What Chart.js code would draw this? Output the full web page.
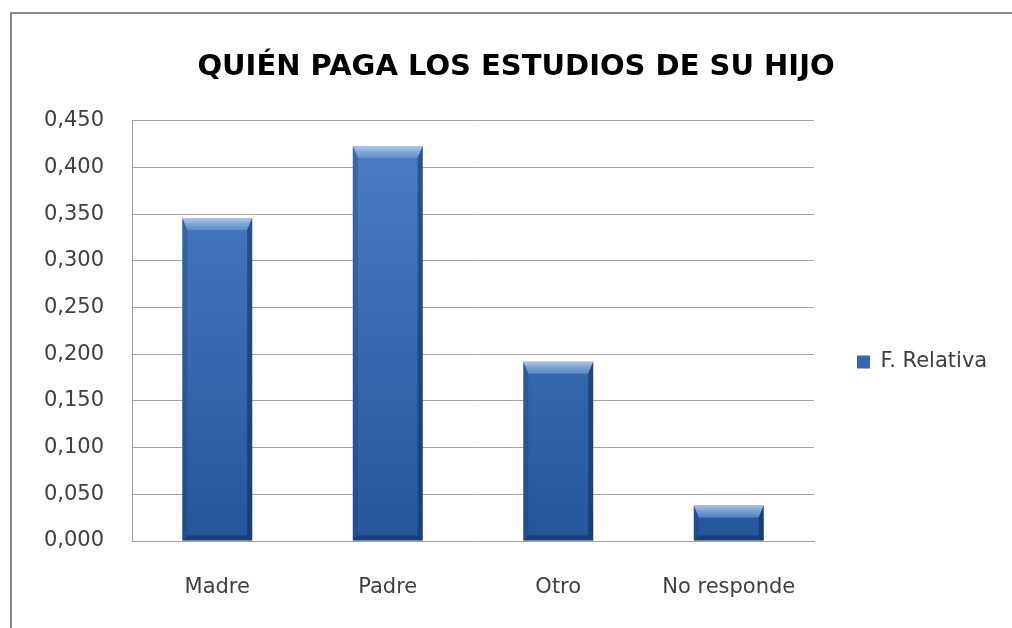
<!DOCTYPE html>
<html>
<head>
<meta charset="utf-8">
<script src="https://cdn.jsdelivr.net/npm/chart.js@4.4.1/dist/chart.umd.min.js"></script>
<style>
  html, body { margin: 0; padding: 0; background: #fff; overflow: hidden; }
  #wrap { position: relative; width: 1012px; height: 628px; }
  #frame { position: absolute; left: 10px; top: 12px; width: 1100px; height: 700px;
           border: 2px solid #8a8a8a; pointer-events: none; }
</style>
</head>
<body>
<div id="wrap">
  <canvas id="quienPaga" width="1012" height="628"></canvas>
  <div id="frame"></div>
</div>
<script>
const categories = ['Madre', 'Padre', 'Otro', 'No responde'];
const relativa = [0.346, 0.423, 0.192, 0.038];
const seriesLabel = 'F. Relativa';
const chartTitle = 'QUIÉN PAGA LOS ESTUDIOS DE SU HIJO';

const legendWidth = 198;

// vertical gradient for the bars, like the excel bevel style
function barFill(ctx) {
  const chart = ctx.chart;
  const area = chart.chartArea;
  if (!area) return '#3b6fb6';
  const g = chart.ctx.createLinearGradient(0, area.top, 0, area.bottom);
  g.addColorStop(0, '#4a7fc6');
  g.addColorStop(1, '#25569b');
  return g;
}

// draw the bevel edges over each bar
const bevelPlugin = {
  id: 'bevel',
  afterDatasetsDraw(chart) {
    const c = chart.ctx;
    const meta = chart.getDatasetMeta(0);
    meta.data.forEach(bar => {
      const half = bar.width / 2;
      const l = bar.x - half, r = bar.x + half;
      const t = bar.y, b = bar.base;
      const s = 5, tt = 12, bb = 5;
      c.save();
      // top
      let g = c.createLinearGradient(0, t, 0, t + tt);
      g.addColorStop(0, 'rgba(190,215,245,0.85)');
      g.addColorStop(1, 'rgba(120,160,215,0.55)');
      c.fillStyle = g;
      c.beginPath();
      c.moveTo(l, t); c.lineTo(r, t); c.lineTo(r - s, t + tt); c.lineTo(l + s, t + tt);
      c.closePath(); c.fill();
      // left
      c.fillStyle = 'rgba(20,50,100,0.25)';
      c.beginPath();
      c.moveTo(l, t); c.lineTo(l + s, t + tt); c.lineTo(l + s, b - bb); c.lineTo(l, b);
      c.closePath(); c.fill();
      // right
      c.fillStyle = 'rgba(10,30,70,0.45)';
      c.beginPath();
      c.moveTo(r, t); c.lineTo(r - s, t + tt); c.lineTo(r - s, b - bb); c.lineTo(r, b);
      c.closePath(); c.fill();
      // bottom
      c.fillStyle = 'rgba(10,30,70,0.45)';
      c.beginPath();
      c.moveTo(l, b); c.lineTo(r, b); c.lineTo(r - s, b - bb); c.lineTo(l + s, b - bb);
      c.closePath(); c.fill();
      c.restore();
    });
  }
};

// fixed legend column width so plot area ends where the reference does,
// push the legend item down to the middle of the plot, nudge title right
const legendWidthPlugin = {
  id: 'legendWidth',
  beforeLayout(chart) {
    const lg = chart.legend;
    if (lg && !lg._fixedWidth) {
      const fit = lg.fit;
      lg.fit = function () { fit.call(this); this.width = legendWidth; };
      lg._fixedWidth = true;
    }
  },
  afterLayout(chart) {
    if (chart.legend) chart.legend.top += 96;
    if (chart.titleBlock) chart.titleBlock.left += 20;
  }
};

const quienPaga_config = {
  type: 'bar',
  data: {
    labels: categories,
    datasets: [{
      label: seriesLabel,
      data: relativa,
      backgroundColor: barFill,
      borderWidth: 0,
      categoryPercentage: 0.82,
      barPercentage: 0.5
    }]
  },
  options: {
    responsive: false,
    animation: false,
    layout: { padding: { left: 0, right: 0, top: 0, bottom: 0 } },
    scales: {
      x: {
        grid: { display: false, drawTicks: false },
        border: { color: '#a0a0a0', width: 1 },
        ticks: { color: '#404040', font: { family: 'DejaVu Sans', size: 21 }, padding: 34 },
        afterFit(scale) { scale.height = 87; }
      },
      y: {
        min: 0,
        max: 0.45,
        grid: { color: '#a6a6a6', drawTicks: false },
        border: { color: '#a0a0a0', width: 1 },
        ticks: {
          stepSize: 0.05,
          color: '#404040',
          padding: 28,
          font: { family: 'DejaVu Sans', size: 21 },
          callback: v => v.toFixed(3).replace('.', ',')
        },
        afterFit(scale) { scale.width = 132; }
      }
    },
    plugins: {
      title: {
        display: true,
        text: chartTitle,
        color: '#000',
        font: { family: 'DejaVu Sans', size: 29, weight: 'bold' },
        padding: { top: 50, bottom: 36 }
      },
      legend: {
        position: 'right',
        labels: {
          color: '#404040',
          font: { family: 'DejaVu Sans', size: 21 },
          boxWidth: 13,
          boxHeight: 13,
          padding: 43
        }
      },
      tooltip: { enabled: false }
    }
  },
  plugins: [bevelPlugin, legendWidthPlugin]
};

var quienPagaChart = new Chart(
  document.getElementById('quienPaga'),
  quienPaga_config
);
</script>
</body>
</html>
